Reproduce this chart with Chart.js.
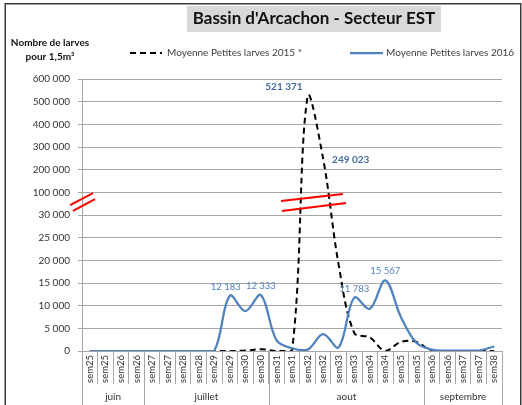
<!DOCTYPE html>
<html>
<head>
<meta charset="utf-8">
<title>Bassin d'Arcachon - Secteur EST</title>
<script src="https://cdn.jsdelivr.net/npm/chart.js@4.4.1/dist/chart.umd.min.js"></script>
<style>
  html, body { margin: 0; padding: 0; background: #fff; }
</style>
</head>
<body>
<canvas id="larves" width="522" height="405"></canvas>
<script>
// Categories (one per sampling, two per week)
const weeks = ['sem25', 'sem25', 'sem26', 'sem26', 'sem27', 'sem27', 'sem28', 'sem28', 'sem29', 'sem29',
  'sem30', 'sem30', 'sem31', 'sem31', 'sem32', 'sem32', 'sem33', 'sem33', 'sem34', 'sem34',
  'sem35', 'sem35', 'sem36', 'sem36', 'sem37', 'sem37', 'sem38'];
const months = ['juin', 'juillet', 'aout', 'septembre'];
const monthWeeks = [4, 8, 10, 5];

// Series (larves pour 1,5 m3)
const larves2015 = [0, 0, 0, 0, 0, 0, 0, 0, 0, 0, 100, 400, 0, 0, 521371, 249023, 19000, 4000, 3000, 0,
  2000, 2000, 0, 0, 0, 0, 0];
const larves2016 = [0, 0, 0, 0, 0, 0, 0, 0, 0, 12183, 8800, 12333, 2400, 600, 300, 3700, 800, 11783, 9300, 15567,
  7500, 1800, 300, 100, 100, 100, 1000];

// Broken y axis: tick values and their labels
const tickValues = [0, 5000, 10000, 15000, 20000, 25000, 30000, 100000, 200000, 300000, 400000, 500000, 600000];
const tickLabels = ['0', '5 000', '10 000', '15 000', '20 000', '25 000', '30 000',
  '100 000', '200 000', '300 000', '400 000', '500 000', '600 000'];

// Points carrying a value label
const labelled2015 = [14, 15];
const labelled2016 = [9, 11, 17, 19];

// value -> position on the broken axis (one unit per tick)
function toAxis(v) {
  for (let k = 0; k < tickValues.length - 1; k++) {
    if (v <= tickValues[k + 1]) {
      return k + (v - tickValues[k]) / (tickValues[k + 1] - tickValues[k]);
    }
  }
  return tickValues.length - 1;
}

function fmt(n) {
  return String(n).replace(/\B(?=(\d{3})+(?!\d))/g, ' ');
}

Chart.defaults.font.family = 'Lato';

var GRID = '#a6a6a6';
var TEXT = '#333333';

// Title, legend, month row, axis breaks and value labels
var decor = {
  id: 'decor',
  beforeDraw(chart) {
    var ctx = chart.ctx;
    ctx.save();
    ctx.fillStyle = '#fff';
    ctx.fillRect(0, 0, chart.width, chart.height);
    ctx.restore();
  },
  afterDatasetsDraw(chart) {
    var ctx = chart.ctx;
    var xs = chart.scales.x;
    var ys = chart.scales.y;
    var area = chart.chartArea;

    // break marks
    ctx.save();
    ctx.strokeStyle = '#ff0000';
    ctx.lineWidth = 2;
    var breaks = [
      [area.left - 12, 6.44, area.left + 11, 6.97],
      [area.left - 9, 6.18, area.left + 13, 6.70],
      [xs.getPixelForValue(12.29), 6.62, xs.getPixelForValue(16.27), 6.93],
      [xs.getPixelForValue(12.35), 6.18, xs.getPixelForValue(16.47), 6.53]
    ];
    breaks.forEach(b => {
      ctx.beginPath();
      ctx.moveTo(b[0], ys.getPixelForValue(b[1]));
      ctx.lineTo(b[2], ys.getPixelForValue(b[3]));
      ctx.stroke();
    });
    ctx.restore();

    // value labels
    ctx.save();
    ctx.textBaseline = 'middle';
    var m15 = chart.getDatasetMeta(0).data;
    ctx.font = 'bold 10px Lato';
    ctx.fillStyle = '#44689f';
    ctx.textAlign = 'right';
    ctx.fillText(fmt(larves2015[labelled2015[0]]), m15[labelled2015[0]].x - 5, m15[labelled2015[0]].y - 10);
    ctx.textAlign = 'left';
    ctx.fillText(fmt(larves2015[labelled2015[1]]), m15[labelled2015[1]].x + 9, m15[labelled2015[1]].y + 1);

    var m16 = chart.getDatasetMeta(1).data;
    ctx.font = '9.5px Lato';
    ctx.fillStyle = '#4f81bd';
    ctx.textAlign = 'center';
    labelled2016.forEach((i, k) => {
      var dx = k === 0 ? -4 : 0;
      ctx.fillText(fmt(larves2016[i]), m16[i].x + dx, m16[i].y - 9);
    });
    ctx.restore();
  },
  afterDraw(chart) {
    var ctx = chart.ctx;
    var xs = chart.scales.x;
    var area = chart.chartArea;
    ctx.save();

    // title
    ctx.fillStyle = '#d9d9d9';
    ctx.fillRect(187, 6, 254, 26);
    ctx.fillStyle = '#111';
    ctx.font = 'bold 17px Lato';
    ctx.textAlign = 'center';
    ctx.textBaseline = 'middle';
    ctx.fillText("Bassin d'Arcachon - Secteur EST", 314, 19);

    // y axis title
    ctx.font = 'bold 10px Lato';
    ctx.fillText('Nombre de larves', 50, 43);
    ctx.fillText('pour 1,5m\u00b3', 50, 57);

    // legend
    var ds = chart.data.datasets;
    var items = [[130, 162, 167], [350, 383, 386]];
    ctx.font = '10px Lato';
    ctx.textAlign = 'left';
    items.forEach((it, k) => {
      ctx.save();
      ctx.strokeStyle = ds[k].borderColor;
      ctx.lineWidth = ds[k].borderWidth;
      ctx.setLineDash(ds[k].borderDash || []);
      ctx.beginPath();
      ctx.moveTo(it[0], 53);
      ctx.lineTo(it[1], 53);
      ctx.stroke();
      ctx.restore();
      ctx.fillStyle = '#404040';
      ctx.fillText(ds[k].label, it[2], 53);
    });

    // month row
    ctx.strokeStyle = GRID;
    ctx.lineWidth = 1;
    ctx.fillStyle = TEXT;
    ctx.font = '10px Lato';
    ctx.textAlign = 'center';
    var start = 0;
    var x0 = Math.round(xs.getPixelForValue(-0.5)) + 0.5;
    ctx.beginPath();
    ctx.moveTo(x0, area.bottom);
    ctx.lineTo(x0, chart.height);
    ctx.stroke();
    months.forEach((name, k) => {
      var end = start + monthWeeks[k];
      var a = xs.getPixelForValue(start - 0.5);
      var b = xs.getPixelForValue(end - 0.5);
      var xb = Math.round(b) + 0.5;
      ctx.beginPath();
      ctx.moveTo(xb, area.bottom);
      ctx.lineTo(xb, chart.height);
      ctx.stroke();
      ctx.fillText(name, (a + b) / 2, area.bottom + 46);
      start = end;
    });

    // frame
    ctx.strokeStyle = '#3a3a3a';
    ctx.lineWidth = 1.5;
    ctx.strokeRect(5.25, 3.75, 515.5, chart.height + 10);
    ctx.restore();
  }
};

var ctx = document.getElementById('larves');

var chart = new Chart(ctx, {
  type: 'line',
  data: {
    labels: weeks,
    datasets: [
      {
        label: 'Moyenne Petites larves 2015 *',
        data: larves2015.map(toAxis),
        borderColor: '#000000',
        borderWidth: 2,
        borderDash: [6, 4],
        pointRadius: 0,
        tension: 0.35,
        fill: false,
        order: 1
      },
      {
        label: 'Moyenne Petites larves 2016',
        data: larves2016.map(toAxis),
        borderColor: '#4f81bd',
        borderWidth: 2.25,
        pointRadius: 0,
        tension: 0.35,
        fill: false,
        order: 0
      }
    ]
  },
  options: {
    responsive: false,
    animation: false,
    layout: { padding: { top: 79, right: 20, bottom: 0, left: 0 } },
    plugins: {
      legend: { display: false },
      title: { display: false },
      tooltip: { enabled: false }
    },
    scales: {
      x: {
        type: 'category',
        offset: true,
        grid: { drawOnChartArea: false, offset: true, tickLength: 33, color: GRID },
        border: { color: GRID },
        ticks: { autoSkip: false, minRotation: 90, maxRotation: 90, padding: -29, color: TEXT, font: { size: 9.5 } },
        afterFit: s => { s.height = 54; }
      },
      y: {
        min: 0,
        max: tickValues.length - 1,
        grid: { color: GRID, tickLength: 4 },
        border: { color: GRID },
        ticks: {
          stepSize: 1,
          padding: 8,
          color: TEXT,
          font: { size: 10 },
          callback: v => tickLabels[v]
        },
        afterFit: s => { s.width = 82; }
      }
    }
  },
  plugins: [decor]
});
</script>
</body>
</html>
